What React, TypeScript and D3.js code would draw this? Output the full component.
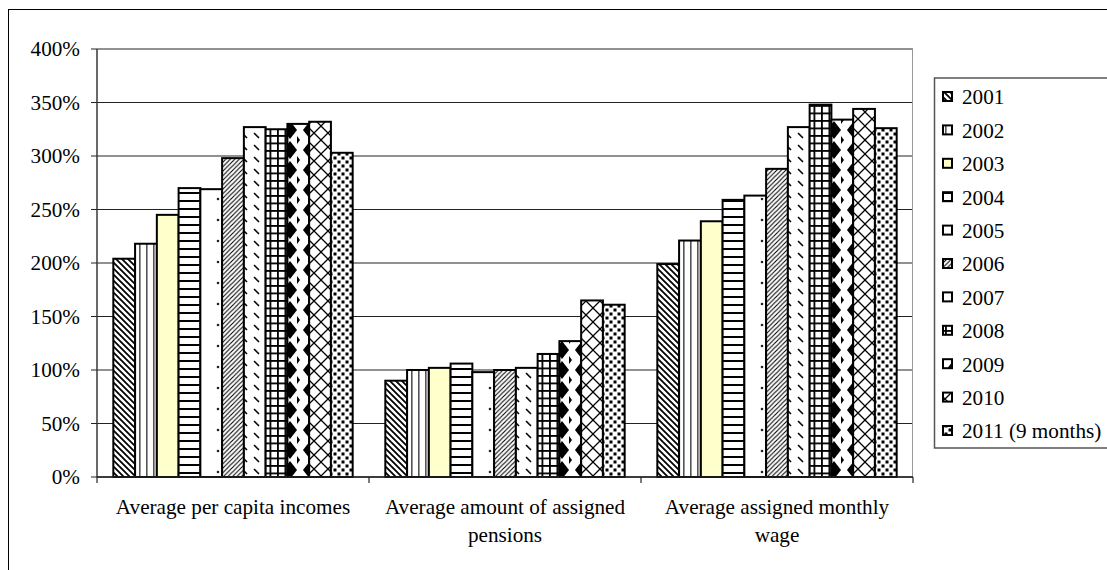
import React from "react";
import * as d3 from "d3";

// Growth indices relative to the base year (1.0 = 100%)
const categories = [
  "Average per capita incomes",
  "Average amount of assigned pensions",
  "Average assigned monthly wage",
];
const categoryLines = [
  ["Average per capita incomes"],
  ["Average amount of assigned", "pensions"],
  ["Average assigned monthly", "wage"],
];
const years = [
  "2001", "2002", "2003", "2004", "2005", "2006",
  "2007", "2008", "2009", "2010", "2011 (9 months)",
];
const incomes = [2.04, 2.18, 2.45, 2.70, 2.69, 2.98, 3.27, 3.25, 3.30, 3.32, 3.03];
const pensions = [0.90, 1.00, 1.02, 1.06, 0.98, 1.00, 1.02, 1.15, 1.27, 1.65, 1.61];
const wages = [1.99, 2.21, 2.39, 2.59, 2.63, 2.88, 3.27, 3.48, 3.34, 3.44, 3.26];
const seriesByCategory = [incomes, pensions, wages];
const yTicks = [0, 0.5, 1, 1.5, 2, 2.5, 3, 3.5, 4];

const FONT = "'Liberation Serif', 'Times New Roman', serif";
const FS = 21.2;

const plot = { left: 97, right: 913, top: 49, bottom: 477 };

function Patterns() {
  const u = { patternUnits: "userSpaceOnUse" as const };
  return (
    <defs>
      <pattern id="p0" {...u} width={6} height={6}>
        <rect width={6} height={6} fill="#fff" />
        <path d="M0,0L6,6M-3,3L3,9M3,-3L9,3" stroke="#000" strokeWidth={1.8} />
      </pattern>
      <pattern id="p1" {...u} width={7} height={4}>
        <rect width={7} height={4} fill="#fff" />
        <rect x={0} width={1.6} height={4} fill="#555" />
      </pattern>
      <pattern id="p2" {...u} width={4} height={4}>
        <rect width={4} height={4} fill="#ffffcc" />
      </pattern>
      <pattern id="p3" {...u} width={4} height={8}>
        <rect width={4} height={8} fill="#fff" />
        <rect y={0} width={4} height={2} fill="#000" />
      </pattern>
      <pattern id="p4" {...u} width={22} height={21}>
        <rect width={22} height={21} fill="#fff" />
        <circle cx={11} cy={10} r={1.3} fill="#222" />
      </pattern>
      <pattern id="p5" {...u} width={4.5} height={4.5}>
        <rect width={4.5} height={4.5} fill="#fff" />
        <path d="M0,4.5L4.5,0M-2.25,2.25L2.25,-2.25M2.25,6.75L6.75,2.25" stroke="#000" strokeWidth={1.1} />
      </pattern>
      <pattern id="p6" {...u} width={12} height={12}>
        <rect width={12} height={12} fill="#fff" />
        <path d="M1,1L6,6" stroke="#000" strokeWidth={1.6} />
      </pattern>
      <pattern id="p7" {...u} width={7.5} height={7.5}>
        <rect width={7.5} height={7.5} fill="#fff" />
        <rect x={0} y={0} width={1.8} height={7.5} fill="#000" />
        <rect x={0} y={0} width={7.5} height={1.8} fill="#000" />
      </pattern>
      <pattern id="p8" {...u} width={20} height={20}>
        <rect width={20} height={20} fill="#fff" />
        <polygon points="13,1 20,10 13,19 6,10" fill="#000" />
        <polygon points="0,0 3,0 0,4" fill="#000" />
        <polygon points="0,20 3,20 0,16" fill="#000" />
      </pattern>
      <pattern id="p9" {...u} width={14} height={14}>
        <rect width={14} height={14} fill="#fff" />
        <path d="M0,0L14,14M14,0L0,14" stroke="#000" strokeWidth={1.3} />
      </pattern>
      <pattern id="p10" {...u} width={8} height={8}>
        <rect width={8} height={8} fill="#fff" />
        <rect x={0.5} y={0.5} width={3} height={3} fill="#000" />
        <rect x={4.5} y={4.5} width={3} height={3} fill="#000" />
      </pattern>
    </defs>
  );
}

export default function App() {
  const x0 = d3
    .scaleBand<string>()
    .domain(categories)
    .range([plot.left, plot.right])
    .padding(0);
  const x1 = d3
    .scaleBand<string>()
    .domain(years)
    .range([0, x0.bandwidth()])
    .paddingInner(0)
    .paddingOuter(0.75);
  const y = d3.scaleLinear().domain([0, 4]).range([plot.bottom, plot.top]);
  const fmt = d3.format(".0%");

  const legendX = 934.5;
  const legendTop = 78;
  const legendRow0 = 97;
  const legendStep = 33.4;

  return (
    <>
      <style>{`body{margin:0;overflow:hidden}`}</style>
      <svg width={1107} height={570} style={{ display: "block" }} fontFamily={FONT}>
        <Patterns />
        <rect x={0} y={0} width={1107} height={570} fill="#fff" />
        <rect x={8.5} y={9.5} width={1200} height={700} fill="#fff" stroke="#000" strokeWidth={1} />

        {/* gridlines */}
        {yTicks.map((t) => (
          <line
            key={"g" + t}
            x1={plot.left}
            x2={plot.right}
            y1={y(t)}
            y2={y(t)}
            stroke="#222"
            strokeWidth={1}
          />
        ))}
        <line x1={plot.right - 0.5} x2={plot.right - 0.5} y1={plot.top} y2={plot.bottom} stroke="#999" strokeWidth={1} />

        {/* bars */}
        {categories.map((c, ci) => (
          <g key={c} transform={`translate(${x0(c)},0)`}>
            {seriesByCategory[ci].map((v, yi) => (
              <rect
                key={years[yi]}
                x={x1(years[yi])}
                y={y(v)}
                width={x1.bandwidth()}
                height={y(0) - y(v)}
                fill={`url(#p${yi})`}
                stroke="#000"
                strokeWidth={2}
              />
            ))}
          </g>
        ))}

        {/* y axis */}
        <line x1={plot.left} x2={plot.left} y1={plot.top} y2={plot.bottom} stroke="#444" strokeWidth={1.6} />
        {yTicks.map((t) => (
          <g key={"t" + t}>
            <line x1={plot.left - 6} x2={plot.left} y1={y(t)} y2={y(t)} stroke="#222" strokeWidth={1} />
            <text x={80} y={y(t)} dy="0.35em" textAnchor="end" fontSize={FS} fill="#000">
              {fmt(t)}
            </text>
          </g>
        ))}

        {/* x axis */}
        <line x1={plot.left} x2={plot.right} y1={plot.bottom} y2={plot.bottom} stroke="#222" strokeWidth={1.6} />
        {[...categories.map((c) => x0(c) as number), plot.right].map((px, i) => (
          <line key={"xt" + i} x1={px} x2={px} y1={plot.bottom} y2={plot.bottom + 6} stroke="#222" strokeWidth={1.2} />
        ))}
        {categories.map((c, ci) => (
          <text
            key={"cl" + c}
            x={(x0(c) as number) + x0.bandwidth() / 2}
            y={514}
            textAnchor="middle"
            fontSize={FS}
            fill="#000"
          >
            {categoryLines[ci].map((line, li) => (
              <tspan key={li} x={(x0(c) as number) + x0.bandwidth() / 2} dy={li === 0 ? 0 : 28}>
                {line}
              </tspan>
            ))}
          </text>
        ))}

        {/* legend */}
        <rect x={legendX} y={legendTop} width={300} height={370} fill="#fff" stroke="#555" strokeWidth={1.5} />
        {years.map((yr, i) => {
          const cy = legendRow0 + i * legendStep;
          return (
            <g key={"lg" + yr}>
              <rect x={943} y={cy - 5} width={9} height={9} fill={`url(#p${i})`} stroke="#000" strokeWidth={2} />
              <text x={962} y={cy} dy="0.35em" fontSize={FS} fill="#000">
                {yr}
              </text>
            </g>
          );
        })}
      </svg>
    </>
  );
}
